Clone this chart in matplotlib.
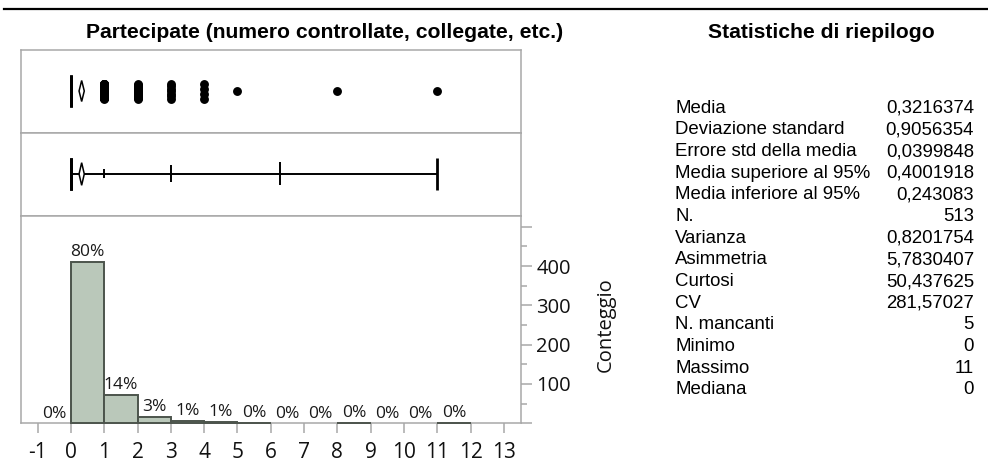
import numpy as np
import matplotlib
matplotlib.use("Agg")
import matplotlib.pyplot as plt
from matplotlib.lines import Line2D
from matplotlib.patches import Polygon

# ---- data -------------------------------------------------------------
values = [0, 1, 2, 3, 4, 5, 8, 11]            # distinct observed values
counts = [411, 72, 16, 7, 4, 1, 1, 1]         # frequency of each value

x_ticks = list(range(-1, 14))
count_ticks = [0, 100, 200, 300, 400, 500]
count_tick_labels = ["", "100", "200", "300", "400", ""]
pct_bins = list(range(-1, 12))                # bins that carry a % label

stat_labels = ["Media", "Deviazione standard", "Errore std della media",
               "Media superiore al 95%", "Media inferiore al 95%", "N.",
               "Varianza", "Asimmetria", "Curtosi", "CV", "N. mancanti",
               "Minimo", "Massimo", "Mediana"]
stat_values = [0.3216374, 0.9056354, 0.0399848, 0.4001918, 0.243083, 513,
               0.8201754, 5.7830407, 50.437625, 281.57027, 5, 0, 11, 0]

title_left = "Partecipate (numero controllate, collegate, etc.)"
title_right = "Statistiche di riepilogo"
y_title = "Conteggio"

# ---- helpers ----------------------------------------------------------
W, H = 988, 463
AX_FONT = ["Open Sans", "DejaVu Sans"]
TXT_FONT = ["Liberation Sans", "DejaVu Sans"]
GRID_GRAY = "#a8a8a8"


def px_rect(x0, y0, x1, y1):
    """Figure-fraction rectangle from pixel box (y measured from top)."""
    return [x0 / W, 1 - y1 / H, (x1 - x0) / W, (y1 - y0) / H]


def fmt(v):
    if float(v).is_integer():
        return str(int(v))
    nint = len(str(int(abs(v))))
    s = f"{v:.{8 - nint}f}".rstrip("0").rstrip(".")
    return s.replace(".", ",")


data = np.repeat(values, counts).astype(float)
data.sort()
n = len(data)


def quantile(p):
    r = p * (n + 1)
    k = int(np.floor(r))
    f = r - k
    if k < 1:
        return data[0]
    if k >= n:
        return data[-1]
    return data[k - 1] + f * (data[k] - data[k - 1])


mean = stat_values[0]
ci_hi = stat_values[3]
ci_lo = stat_values[4]

q1, med, q3 = quantile(0.25), quantile(0.5), quantile(0.75)
iqr = q3 - q1
lo_fence, hi_fence = q1 - 1.5 * iqr, q3 + 1.5 * iqr

plt.rcParams["font.family"] = AX_FONT
fig = plt.figure(figsize=(W / 100, H / 100), dpi=100)

XLIM = (-1.5, 13.5)
XL, XR = 21, 520.5

# top rule
fig.add_artist(Line2D([4 / W, 1.0], [1 - 9 / H, 1 - 9 / H],
                      transform=fig.transFigure, color="black", lw=1.6))

# titles
fig.text(325 / W, 1 - 38.3 / H, title_left, ha="center", va="baseline",
         fontsize=15.2, fontweight="bold", family=TXT_FONT)
fig.text(821.5 / W, 1 - 38.3 / H, title_right, ha="center", va="baseline",
         fontsize=15.2, fontweight="bold", family=TXT_FONT)


def frame(ax):
    for s in ax.spines.values():
        s.set_color(GRID_GRAY)
        s.set_linewidth(1.1)
    ax.set_xticks([])
    ax.set_yticks([])
    ax.set_xlim(*XLIM)


def diamond(ax, h):
    ax.add_patch(Polygon([(ci_lo, 0), (mean, h), (ci_hi, 0), (mean, -h)],
                         closed=True, facecolor="white", edgecolor="black",
                         lw=1.1, zorder=3))


# ---- outlier box plot ----------------------------------------------------
ax1 = fig.add_axes(px_rect(XL, 50, XR, 132.7))
frame(ax1)
ax1.set_ylim(-41.7, 41.0)
for q in (q1, med, q3):
    ax1.plot([q, q], [-16, 16], color="black", lw=2.0, solid_capstyle="butt")
inside = data[(data >= lo_fence) & (data <= hi_fence)]
ax1.plot([q1, inside.min()], [0, 0], color="black", lw=1.4)
ax1.plot([q3, inside.max()], [0, 0], color="black", lw=1.4)
diamond(ax1, 10.5)
for v, c in zip(values, counts):
    if v < lo_fence or v > hi_fence:
        offs = np.linspace(-7.5, 7.5, c) if c > 1 else np.array([0.0])
        ax1.plot(np.full(c, v), offs, "o", color="black", ms=6.4, mew=0,
                 zorder=4)

# ---- quantile box plot ---------------------------------------------------
ax2 = fig.add_axes(px_rect(XL, 132.7, XR, 215.7))
frame(ax2)
ax2.set_ylim(-41.7, 41.3)
ax2.plot([data.min(), data.max()], [0, 0], color="black", lw=1.4)
for v in (data.min(), data.max(), q1, med, q3):
    ax2.plot([v, v], [-16, 16], color="black", lw=2.0, solid_capstyle="butt")
for p, h in ((0.005, 11.5), (0.025, 8.5), (0.10, 4.5),
             (0.90, 4.5), (0.975, 8.5), (0.995, 11.5)):
    qv = quantile(p)
    ax2.plot([qv, qv], [-h, h], color="black", lw=1.4, solid_capstyle="butt")
diamond(ax2, 11.3)

# ---- histogram -----------------------------------------------------------
ax3 = fig.add_axes(px_rect(XL, 215.7, XR, 423.3))
for s in ax3.spines.values():
    s.set_color(GRID_GRAY)
    s.set_linewidth(1.1)
ax3.set_xlim(*XLIM)
ax3.set_ylim(0, 528)
ax3.bar(values, counts, width=1.0, align="edge", color="#bac8ba",
        edgecolor="#4c544c", linewidth=1.4, zorder=3, clip_on=False)

bin_counts = dict(zip(values, counts))
for b in pct_bins:
    c = bin_counts.get(b, 0)
    pct = int(round(100 * c / n))
    ax3.annotate(f"{pct}%", (b + 0.5, c), xytext=(0, 4),
                 textcoords="offset points", ha="center", va="baseline",
                 fontsize=12.5, color="#1a1a1a")

ax3.set_xticks(x_ticks)
ax3.set_xticklabels([str(t) for t in x_ticks])
ax3.tick_params(axis="x", direction="out", length=7.2, width=1.1,
                color=GRID_GRAY, labelsize=15, pad=6, labelcolor="#111111")
ax3.yaxis.tick_right()
ax3.set_yticks(count_ticks)
ax3.set_yticklabels(count_tick_labels)
ax3.set_yticks(np.arange(50, 528, 100), minor=True)
ax3.tick_params(axis="y", which="major", direction="out", length=8,
                width=1.1, color=GRID_GRAY, labelsize=14.5, pad=3.5,
                labelcolor="#111111")
ax3.tick_params(axis="y", which="minor", direction="out", length=4.3,
                width=1.1, color=GRID_GRAY)

fig.text(606 / W, 1 - 325 / H, y_title, rotation=90, ha="center",
         va="center", fontsize=14.5, color="#111111")

# ---- summary statistics --------------------------------------------------
for i, (lab, val) in enumerate(zip(stat_labels, stat_values)):
    yb = 1 - (112.7 + i * 21.67) / H
    fig.text(675 / W, yb, lab, ha="left", va="baseline", fontsize=13.4,
             family=TXT_FONT)
    fig.text(974 / W, yb, fmt(val), ha="right", va="baseline",
             fontsize=13.4, family=TXT_FONT)

fig.savefig("out.png", dpi=100)
